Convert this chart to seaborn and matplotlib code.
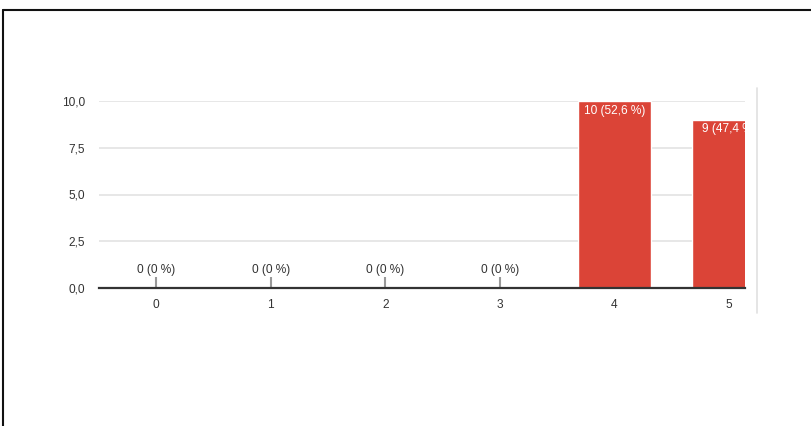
import matplotlib
matplotlib.use("Agg")
import matplotlib.pyplot as plt
import seaborn as sns
import pandas as pd
from matplotlib.lines import Line2D
from matplotlib.ticker import FuncFormatter

categories = ["0", "1", "2", "3", "4", "5"]
counts = [0, 0, 0, 0, 10, 9]
percent_labels = ["0 %", "0 %", "0 %", "0 %", "52,6 %", "47,4 %"]
y_ticks = [0.0, 2.5, 5.0, 7.5, 10.0]

sns.set_theme(style="white")
plt.rcParams["font.family"] = ["Liberation Sans", "DejaVu Sans"]

W, H = 811, 426
FS = 8.6
fig = plt.figure(figsize=(W / 100, H / 100), dpi=100)
ax = fig.add_axes([99 / W, 1 - 288 / H, (745 - 99) / W, (288 - 101) / H])

df = pd.DataFrame({"cat": categories, "count": counts})
sns.barplot(data=df, x="cat", y="count", color="#db4437", saturation=1,
            width=0.64, ax=ax, zorder=2)

ax.set_xlim(-0.5, 5.14)
ax.set_ylim(0, 10)
ax.set_yticks(y_ticks)
ax.yaxis.set_major_formatter(FuncFormatter(lambda v, p: f"{v:.1f}".replace(".", ",")))
ax.set_xlabel("")
ax.set_ylabel("")
for s in ["top", "right", "left"]:
    ax.spines[s].set_visible(False)
ax.spines["bottom"].set_color("#333333")
ax.spines["bottom"].set_linewidth(1.6)
ax.spines["bottom"].set_zorder(4)
ax.grid(axis="y", color="#e3e3e3", linewidth=1.2, zorder=0)
ax.set_axisbelow(True)
ax.tick_params(axis="both", length=0, labelsize=FS, colors="#333333")
ax.tick_params(axis="x", pad=8)
ax.tick_params(axis="y", pad=10)

for i, (c, p) in enumerate(zip(counts, percent_labels)):
    label = f"{c} ({p})"
    if c == 0:
        ax.vlines(i, 0, 0.6, color="#999999", linewidth=1.5, zorder=3)
        ax.text(i, 0.62, label, ha="center", va="bottom", fontsize=FS,
                color="#333333", zorder=5)
    else:
        ax.text(i, c - 0.2, label, ha="center", va="top", fontsize=FS,
                color="white", zorder=5, clip_on=True)

# light vertical separator at right
fig.add_artist(Line2D([757 / W, 757 / W], [1 - 88 / H, 1 - 313 / H],
                      color="#e0e0e0", linewidth=1.2))
# frame (top and left)
fig.add_artist(Line2D([3 / W, 1.0], [1 - 10 / H, 1 - 10 / H],
                      color="#111111", linewidth=1.5))
fig.add_artist(Line2D([3.5 / W, 3.5 / W], [1 - 10 / H, 0.0],
                      color="#111111", linewidth=1.5))

fig.savefig("out.png", dpi=100)
